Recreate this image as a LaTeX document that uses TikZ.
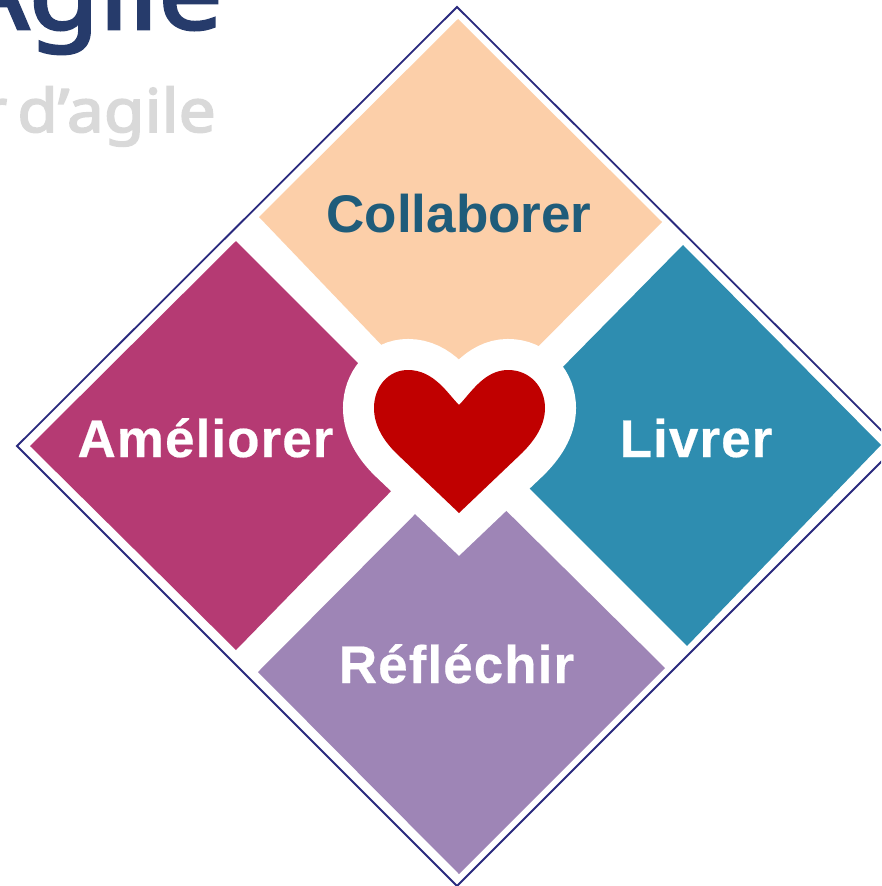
\documentclass[tikz,border=0pt]{standalone}
\usepackage{fontspec}
\setmainfont{Liberation Sans}
\newfontfamily\titlefont[FakeBold=2.8,FakeStretch=1.1]{Noto Sans}
\newfontfamily\spacedfont[LetterSpace=2,FakeBold=0.4]{Liberation Sans Bold}
\definecolor{cpeach}{HTML}{FCCFA9}
\definecolor{cmag}{HTML}{B53A73}
\definecolor{cteal}{HTML}{2E8DB0}
\definecolor{cpurp}{HTML}{9E85B6}
\definecolor{cred}{HTML}{C00000}
\definecolor{cnavy}{HTML}{2A2A7E}
\definecolor{ctitle}{HTML}{263B6B}
\definecolor{cgrey}{HTML}{D9D9D9}
\definecolor{ccol}{HTML}{1F5C7A}
\tikzset{
  petal/.style={draw=none},
  lab/.style={font=\bfseries\fontsize{53}{60}\selectfont,inner sep=0pt,anchor=base},
  wlab/.style={font=\spacedfont\fontsize{53}{60}\selectfont,inner sep=0pt,anchor=base,text=white},
  titletext/.style={inner sep=0pt,anchor=base east}
}
\begin{document}
\begin{tikzpicture}[x=1pt,y=-1pt]
\useasboundingbox (0,0) rectangle (881,886);
\clip (0,0) rectangle (881,886);
\fill[white] (0,0) rectangle (881,886);
\node[titletext,text=ctitle,font=\titlefont\fontsize{104}{120}\selectfont] (t1) at (223,29) {Agile};
\node[titletext,text=cgrey,font=\titlefont\fontsize{60}{70}\selectfont] (t2) at (216,132) {r\hspace{-7pt} d’agile};
\draw[cnavy,line width=1.8pt] (457,7) -- (897,446) -- (457,886) -- (17,446) -- cycle;
\fill[petal,cpeach] (458,19) -- (662,222) -- (459,426) -- (259,217) -- cycle;
\fill[petal,cmag] (236,241) -- (438,443) -- (236,650) -- (30,446) -- cycle;
\fill[petal,cteal] (683,245) -- (881,445) -- (687,646) -- (486,445) -- cycle;
\fill[petal,cpurp] (462,467) -- (665,668) -- (459,874) -- (258,672) -- cycle;
\def\heartpath{(459,405) .. controls (448,394) and (434,370) .. (408,370)
  .. controls (388,370) and (374,387) .. (374,408)
  .. controls (374,426) and (384,441) .. (396,453)
  -- (459,513) -- (522,453)
  .. controls (534,441) and (545,426) .. (545,408)
  .. controls (545,387) and (530,370) .. (508,370)
  .. controls (484,370) and (470,394) .. (459,405) -- cycle}
\draw[white,line width=62pt,line join=miter,miter limit=10] \heartpath;
\fill[cred] \heartpath;
\node[lab,text=ccol] (c) at (459,232) {Collaborer};
\node[wlab] (a) at (205.5,457) {Améliorer};
\node[wlab] (l) at (696,457) {Livrer};
\node[wlab] (r) at (456.5,683) {Réfléchir};
\end{tikzpicture}
\end{document}
